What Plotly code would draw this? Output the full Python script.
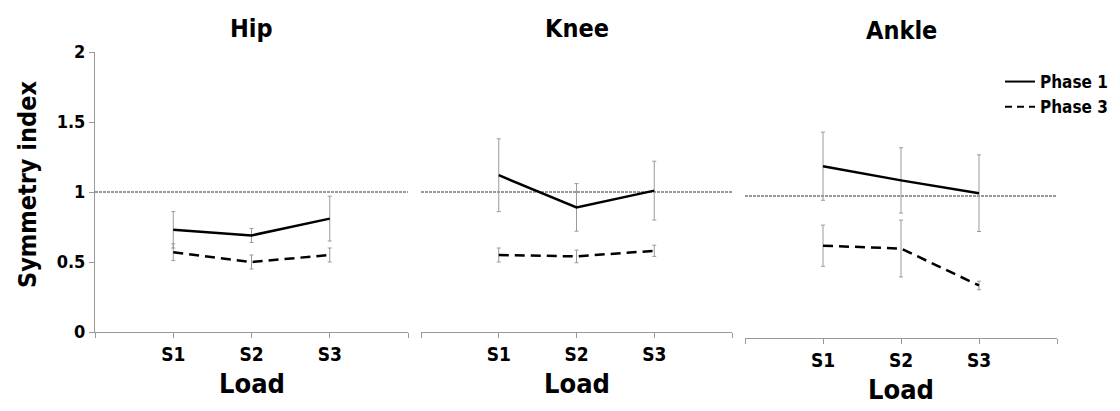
import plotly.graph_objects as go

# Symmetry index per load condition, mean and error (SD) per joint and phase
loads = ["S1", "S2", "S3"]
load_pos = [1, 2, 3]
joints = ["Hip", "Knee", "Ankle"]

hip_phase1 = [0.73, 0.69, 0.81]
hip_phase1_err = [0.13, 0.05, 0.16]
hip_phase3 = [0.57, 0.50, 0.55]
hip_phase3_err = [0.06, 0.05, 0.05]

knee_phase1 = [1.12, 0.89, 1.01]
knee_phase1_err = [0.26, 0.17, 0.21]
knee_phase3 = [0.55, 0.54, 0.58]
knee_phase3_err = [0.05, 0.045, 0.04]

ankle_phase1 = [1.21, 1.11, 1.02]
ankle_phase1_err = [0.24, 0.23, 0.27]
ankle_phase3 = [0.65, 0.63, 0.37]
ankle_phase3_err = [0.145, 0.20, 0.03]

reference_level = 1.0
y_ticks = [0, 0.5, 1, 1.5, 2]
y_tick_text = ["0", "0.5", "1", "1.5", "2"]

FONT = "DejaVu Sans Condensed, Liberation Sans, Arial, sans-serif"
W, H = 1120, 411

panels = [
    (joints[0], hip_phase1, hip_phase1_err, hip_phase3, hip_phase3_err, (95, 408), (332, 52)),
    (joints[1], knee_phase1, knee_phase1_err, knee_phase3, knee_phase3_err, (421, 732), (332, 52)),
    (joints[2], ankle_phase1, ankle_phase1_err, ankle_phase3, ankle_phase3_err, (745, 1057), (338, 54)),
]

fig = go.Figure()
annotations = []

for i, (name, p1, e1, p3, e3, (x0, x1), (yb, yt)) in enumerate(panels):
    k = "" if i == 0 else str(i + 1)
    xa, ya = "x" + k, "y" + k

    # horizontal reference at perfect symmetry
    fig.add_trace(go.Scatter(
        x=[0, 4], y=[reference_level, reference_level], xaxis=xa, yaxis=ya,
        mode="lines", line=dict(color="#333333", width=1, dash="3px,1px"),
        showlegend=False, hoverinfo="skip"))

    fig.add_trace(go.Scatter(
        x=load_pos, y=p3, xaxis=xa, yaxis=ya, mode="lines", name="Phase 3",
        line=dict(color="black", width=2.5, dash="10px,6px"),
        error_y=dict(type="data", array=e3, color="#9a9a9a", thickness=1, width=2),
        showlegend=False))
    fig.add_trace(go.Scatter(
        x=load_pos, y=p1, xaxis=xa, yaxis=ya, mode="lines", name="Phase 1",
        line=dict(color="black", width=2.5),
        error_y=dict(type="data", array=e1, color="#9a9a9a", thickness=1, width=2),
        showlegend=False))

    dom_x = [x0 / W, x1 / W]
    dom_y = [(H - yb) / H, (H - yt) / H]
    fig.layout["xaxis" + k] = dict(
        domain=dom_x, range=[0, 4], tickvals=[0, 1, 2, 3, 4],
        ticktext=[""] + loads + [""], ticks="outside", ticklen=5, tickcolor="#999999",
        showline=True, linecolor="#999999", linewidth=1, showgrid=False, zeroline=False,
        tickfont=dict(family=FONT, size=19, color="black", weight="bold"),
        anchor=ya, fixedrange=True, automargin=False)
    fig.layout["yaxis" + k] = dict(
        domain=dom_y, range=[0, 2], tickvals=y_ticks, ticktext=y_tick_text,
        showticklabels=(i == 0), ticks="outside" if i == 0 else "", ticklen=5,
        tickcolor="#999999", showline=(i == 0), linecolor="#999999", linewidth=1,
        showgrid=False, zeroline=False,
        tickfont=dict(family=FONT, size=18, color="black", weight="bold"),
        anchor=xa, fixedrange=True, automargin=False)

    cx = (x0 + x1) / 2 / W
    annotations.append(dict(text=name, x=cx, y=(H - 28 - (yt - 52)) / H, xref="paper",
                            yref="paper", showarrow=False, xanchor="center", yanchor="middle",
                            font=dict(family=FONT, size=25, color="black", weight="bold")))
    annotations.append(dict(text="Load", x=cx, y=(H - 383 - (yb - 332)) / H, xref="paper",
                            yref="paper", showarrow=False, xanchor="center", yanchor="middle",
                            font=dict(family=FONT, size=27, color="black", weight="bold")))

annotations.append(dict(text="Symmetry index", x=27 / W, y=(H - 185) / H, xref="paper",
                        yref="paper", showarrow=False, textangle=-90,
                        xanchor="center", yanchor="middle",
                        font=dict(family=FONT, size=25, color="black", weight="bold")))

# legend entries
fig.add_trace(go.Scatter(x=[None], y=[None], mode="lines", name="Phase 1",
                         line=dict(color="black", width=2), showlegend=True))
fig.add_trace(go.Scatter(x=[None], y=[None], mode="lines", name="Phase 3",
                         line=dict(color="black", width=2, dash="7px,5px"), showlegend=True))

fig.update_layout(
    width=W, height=H, margin=dict(l=0, r=0, t=0, b=0, autoexpand=False),
    plot_bgcolor="white", paper_bgcolor="white",
    annotations=annotations,
    legend=dict(x=1000 / W, y=(H - 64) / H, xanchor="left", yanchor="top",
                bgcolor="rgba(0,0,0,0)", tracegroupgap=0, itemwidth=30,
                font=dict(family=FONT, size=17, color="black", weight="bold")),
)

fig.write_html("out.html")
